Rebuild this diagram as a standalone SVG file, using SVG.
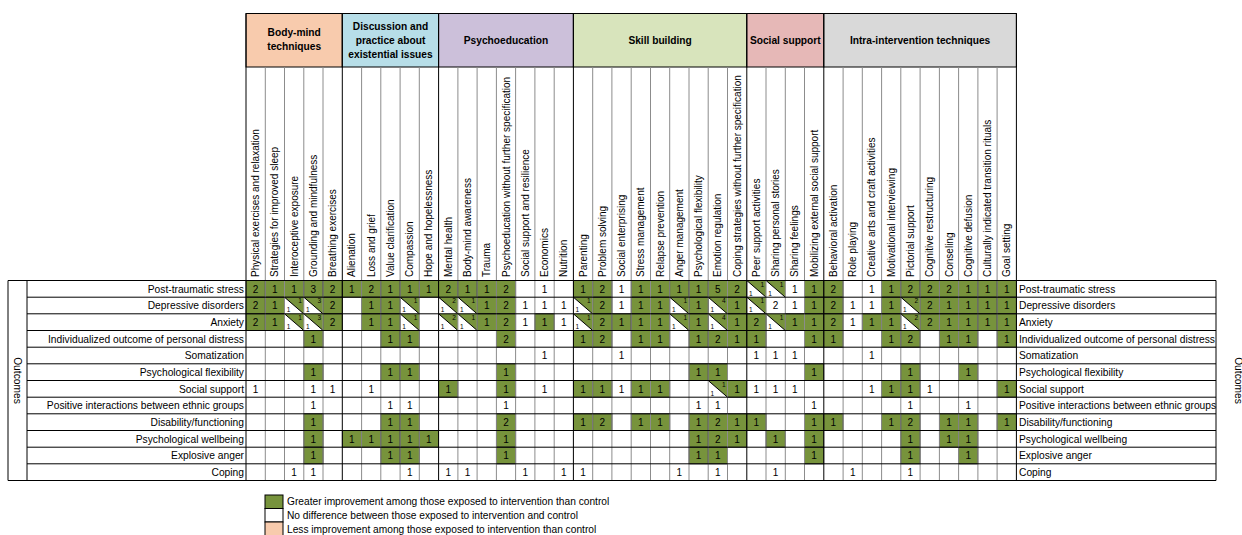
<svg xmlns="http://www.w3.org/2000/svg" xmlns:xlink="http://www.w3.org/1999/xlink" width="1242" height="535" viewBox="0 0 1242 535">
<style>
text{font-family:"Liberation Sans",Arial,sans-serif;fill:#000}
.row text{font-size:10px;text-anchor:middle}
.row text.s{font-size:6.5px}
.cl text{font-size:10px}
.rl text{font-size:10.25px;text-anchor:end}
.rr text{font-size:10.25px}
.hd text{font-size:10.2px;font-weight:bold;text-anchor:middle}
.lg text{font-size:10.2px}
.hb{stroke:#000;stroke-width:1}
</style>
<defs>
<rect id="gc" width="19.3" height="16.7" fill="#77933C" stroke="#1a1a1a" stroke-width="0.8"/>
<g id="sp"><polygon points="0,0 19.3,0 19.3,16.7" fill="#77933C"/><line x1="0" y1="0" x2="19.3" y2="16.7" stroke="#000" stroke-width="1"/></g>
</defs>
<rect width="1242" height="535" fill="#fff"/>

<g id="header-groups" class="hd">
<rect class="hb" x="246" y="13.5" width="96.3" height="53.5" fill="#F8CBAD"/>
<rect class="hb" x="342.3" y="13.5" width="96.3" height="53.5" fill="#B7DEE8"/>
<rect class="hb" x="438.6" y="13.5" width="134.8" height="53.5" fill="#CCC0DA"/>
<rect class="hb" x="573.4" y="13.5" width="173.4" height="53.5" fill="#D8E4BC"/>
<rect class="hb" x="746.8" y="13.5" width="77" height="53.5" fill="#E6B8B7"/>
<rect class="hb" x="823.8" y="13.5" width="192.6" height="53.5" fill="#D9D9D9"/>
<text x="294.2" y="36">Body-mind</text><text x="294.2" y="50">techniques</text>
<text x="390.5" y="30">Discussion and</text><text x="390.5" y="44">practice about</text><text x="390.5" y="58">existential issues</text>
<text x="506" y="43.5">Psychoeducation</text>
<text x="660.1" y="43.5">Skill building</text>
<text x="785.3" y="43.5">Social support</text>
<text x="920.1" y="43.5">Intra-intervention techniques</text>
</g>

<g id="column-labels" class="cl">
<text transform="translate(259.1,277) rotate(-90)">Physical exercises and relaxation</text>
<text transform="translate(278.4,277) rotate(-90)">Strategies for improved sleep</text>
<text transform="translate(297.6,277) rotate(-90)">Interoceptive exposure</text>
<text transform="translate(316.9,277) rotate(-90)">Grounding and mindfulness</text>
<text transform="translate(336.1,277) rotate(-90)">Breathing exercises</text>
<text transform="translate(355.4,277) rotate(-90)">Alienation</text>
<text transform="translate(374.7,277) rotate(-90)">Loss and grief</text>
<text transform="translate(393.9,277) rotate(-90)">Value clarification</text>
<text transform="translate(413.2,277) rotate(-90)">Compassion</text>
<text transform="translate(432.4,277) rotate(-90)">Hope and hopelessness</text>
<text transform="translate(451.7,277) rotate(-90)">Mental health</text>
<text transform="translate(471,277) rotate(-90)">Body-mind awareness</text>
<text transform="translate(490.2,277) rotate(-90)">Trauma</text>
<text transform="translate(509.5,277) rotate(-90)">Psychoeducation without further specification</text>
<text transform="translate(528.7,277) rotate(-90)">Social support and resilience</text>
<text transform="translate(548,277) rotate(-90)">Economics</text>
<text transform="translate(567.3,277) rotate(-90)">Nutrition</text>
<text transform="translate(586.5,277) rotate(-90)">Parenting</text>
<text transform="translate(605.8,277) rotate(-90)">Problem solving</text>
<text transform="translate(625,277) rotate(-90)">Social enterprising</text>
<text transform="translate(644.3,277) rotate(-90)">Stress management</text>
<text transform="translate(663.6,277) rotate(-90)">Relapse prevention</text>
<text transform="translate(682.8,277) rotate(-90)">Anger management</text>
<text transform="translate(702.1,277) rotate(-90)">Psychological flexibility</text>
<text transform="translate(721.3,277) rotate(-90)">Emotion regulation</text>
<text transform="translate(740.6,277) rotate(-90)">Coping strategies without further specification</text>
<text transform="translate(759.9,277) rotate(-90)">Peer support activities</text>
<text transform="translate(779.1,277) rotate(-90)">Sharing personal stories</text>
<text transform="translate(798.4,277) rotate(-90)">Sharing feelings</text>
<text transform="translate(817.6,277) rotate(-90)">Mobilizing external social support</text>
<text transform="translate(836.9,277) rotate(-90)">Behavioral activation</text>
<text transform="translate(856.2,277) rotate(-90)">Role playing</text>
<text transform="translate(875.4,277) rotate(-90)">Creative arts and craft activities</text>
<text transform="translate(894.7,277) rotate(-90)">Motivational interviewing</text>
<text transform="translate(913.9,277) rotate(-90)">Pictorial support</text>
<text transform="translate(933.2,277) rotate(-90)">Cognitive restructuring</text>
<text transform="translate(952.5,277) rotate(-90)">Conseling</text>
<text transform="translate(971.7,277) rotate(-90)">Cognitive defusion</text>
<text transform="translate(991,277) rotate(-90)">Culturally indicated transition rituals</text>
<text transform="translate(1010.2,277) rotate(-90)">Goal setting</text>
</g>

<g id="row-labels-left" class="rl">
<text x="244" y="292.5">Post-traumatic stress</text>
<text x="244" y="309.2">Depressive disorders</text>
<text x="244" y="325.8">Anxiety</text>
<text x="244" y="342.5">Individualized outcome of personal distress</text>
<text x="244" y="359.2">Somatization</text>
<text x="244" y="375.8">Psychological flexibility</text>
<text x="244" y="392.5">Social support</text>
<text x="244" y="409.2">Positive interactions between ethnic groups</text>
<text x="244" y="425.8">Disability/functioning</text>
<text x="244" y="442.5">Psychological wellbeing</text>
<text x="244" y="459.2">Explosive anger</text>
<text x="244" y="475.8">Coping</text>
</g>
<g id="row-labels-right" class="rr">
<text x="1019" y="292.5">Post-traumatic stress</text>
<text x="1019" y="309.2">Depressive disorders</text>
<text x="1019" y="325.8">Anxiety</text>
<text x="1019" y="342.5">Individualized outcome of personal distress</text>
<text x="1019" y="359.2">Somatization</text>
<text x="1019" y="375.8">Psychological flexibility</text>
<text x="1019" y="392.5">Social support</text>
<text x="1019" y="409.2">Positive interactions between ethnic groups</text>
<text x="1019" y="425.8">Disability/functioning</text>
<text x="1019" y="442.5">Psychological wellbeing</text>
<text x="1019" y="459.2">Explosive anger</text>
<text x="1019" y="475.8">Coping</text>
</g>

<g id="outcomes-left"><text transform="translate(14,380.5) rotate(90)" font-size="10.25" text-anchor="middle">Outcomes</text></g>
<g id="outcomes-right"><text transform="translate(1235,380.5) rotate(90)" font-size="10.25" text-anchor="middle">Outcomes</text></g>

<g id="r0" class="row" transform="translate(0,280.5)">
<use href="#gc" x="246"/><use href="#gc" x="265.3"/><use href="#gc" x="284.5"/><use href="#gc" x="303.8"/><use href="#gc" x="323"/><use href="#gc" x="342.3"/><use href="#gc" x="361.6"/><use href="#gc" x="380.8"/><use href="#gc" x="400.1"/><use href="#gc" x="419.3"/><use href="#gc" x="438.6"/><use href="#gc" x="457.9"/><use href="#gc" x="477.1"/><use href="#gc" x="496.4"/><use href="#gc" x="573.4"/><use href="#gc" x="592.7"/><use href="#gc" x="631.2"/><use href="#gc" x="650.5"/><use href="#gc" x="669.7"/><use href="#gc" x="689"/><use href="#gc" x="708.2"/><use href="#gc" x="727.5"/><use href="#gc" x="804.5"/><use href="#gc" x="823.8"/><use href="#gc" x="881.6"/><use href="#gc" x="900.8"/><use href="#gc" x="920.1"/><use href="#gc" x="939.4"/><use href="#gc" x="958.6"/><use href="#gc" x="977.9"/><use href="#gc" x="997.1"/>
<use href="#sp" x="746.8"/><use href="#sp" x="766"/>
<text x="255.6" y="12">2</text><text x="274.9" y="12">1</text><text x="294.1" y="12">1</text><text x="313.4" y="12">3</text><text x="332.6" y="12">2</text><text x="351.9" y="12">1</text><text x="371.2" y="12">2</text><text x="390.4" y="12">1</text><text x="409.7" y="12">1</text><text x="428.9" y="12">1</text><text x="448.2" y="12">2</text><text x="467.5" y="12">1</text><text x="486.7" y="12">1</text><text x="506" y="12">2</text><text x="544.5" y="12">1</text><text x="583" y="12">1</text><text x="602.3" y="12">2</text><text x="621.5" y="12">1</text><text x="640.8" y="12">1</text><text x="660.1" y="12">1</text><text x="679.3" y="12">1</text><text x="698.6" y="12">1</text><text x="717.8" y="12">5</text><text x="737.1" y="12">2</text><text x="794.9" y="12">1</text><text x="814.1" y="12">1</text><text x="833.4" y="12">2</text><text x="871.9" y="12">1</text><text x="891.2" y="12">1</text><text x="910.4" y="12">2</text><text x="929.7" y="12">2</text><text x="949" y="12">2</text><text x="968.2" y="12">1</text><text x="987.5" y="12">1</text><text x="1006.7" y="12">1</text>
<text class="s" x="762.3" y="6.3">1</text><text class="s" x="750.8" y="15">1</text><text class="s" x="781.5" y="6.3">1</text><text class="s" x="770" y="15">1</text>
</g>

<g id="r1" class="row" transform="translate(0,297.2)">
<use href="#gc" x="246"/><use href="#gc" x="265.3"/><use href="#gc" x="323"/><use href="#gc" x="361.6"/><use href="#gc" x="380.8"/><use href="#gc" x="477.1"/><use href="#gc" x="496.4"/><use href="#gc" x="592.7"/><use href="#gc" x="631.2"/><use href="#gc" x="650.5"/><use href="#gc" x="689"/><use href="#gc" x="727.5"/><use href="#gc" x="804.5"/><use href="#gc" x="823.8"/><use href="#gc" x="881.6"/><use href="#gc" x="920.1"/><use href="#gc" x="939.4"/><use href="#gc" x="958.6"/><use href="#gc" x="977.9"/><use href="#gc" x="997.1"/>
<use href="#sp" x="284.5"/><use href="#sp" x="303.8"/><use href="#sp" x="400.1"/><use href="#sp" x="438.6"/><use href="#sp" x="457.9"/><use href="#sp" x="573.4"/><use href="#sp" x="669.7"/><use href="#sp" x="708.2"/><use href="#sp" x="746.8"/><use href="#sp" x="900.8"/>
<text x="255.6" y="12">2</text><text x="274.9" y="12">1</text><text x="332.6" y="12">2</text><text x="371.2" y="12">1</text><text x="390.4" y="12">1</text><text x="486.7" y="12">1</text><text x="506" y="12">2</text><text x="525.2" y="12">1</text><text x="544.5" y="12">1</text><text x="563.8" y="12">1</text><text x="602.3" y="12">2</text><text x="621.5" y="12">1</text><text x="640.8" y="12">1</text><text x="660.1" y="12">1</text><text x="698.6" y="12">1</text><text x="737.1" y="12">1</text><text x="775.6" y="12">2</text><text x="794.9" y="12">1</text><text x="814.1" y="12">1</text><text x="833.4" y="12">2</text><text x="852.7" y="12">1</text><text x="871.9" y="12">1</text><text x="891.2" y="12">1</text><text x="929.7" y="12">2</text><text x="949" y="12">1</text><text x="968.2" y="12">1</text><text x="987.5" y="12">1</text><text x="1006.7" y="12">1</text>
<text class="s" x="300" y="6.3">1</text><text class="s" x="288.5" y="15">1</text>
<text class="s" x="319.3" y="6.3">3</text><text class="s" x="307.8" y="15">1</text>
<text class="s" x="415.6" y="6.3">1</text><text class="s" x="404.1" y="15">1</text>
<text class="s" x="454.1" y="6.3">2</text><text class="s" x="442.6" y="15">1</text>
<text class="s" x="473.4" y="6.3">1</text><text class="s" x="461.9" y="15">1</text>
<text class="s" x="588.9" y="6.3">1</text><text class="s" x="577.4" y="15">1</text>
<text class="s" x="685.2" y="6.3">1</text><text class="s" x="673.7" y="15">1</text>
<text class="s" x="723.7" y="6.3">4</text><text class="s" x="712.2" y="15">1</text>
<text class="s" x="762.3" y="6.3">1</text><text class="s" x="750.8" y="15">1</text>
<text class="s" x="916.3" y="6.3">2</text><text class="s" x="904.8" y="15">1</text>
</g>

<g id="r2" class="row" transform="translate(0,313.8)">
<use href="#gc" x="246"/><use href="#gc" x="265.3"/><use href="#gc" x="323"/><use href="#gc" x="361.6"/><use href="#gc" x="380.8"/><use href="#gc" x="477.1"/><use href="#gc" x="496.4"/><use href="#gc" x="534.9"/><use href="#gc" x="592.7"/><use href="#gc" x="611.9"/><use href="#gc" x="631.2"/><use href="#gc" x="650.5"/><use href="#gc" x="689"/><use href="#gc" x="727.5"/><use href="#gc" x="746.8"/><use href="#gc" x="785.3"/><use href="#gc" x="804.5"/><use href="#gc" x="823.8"/><use href="#gc" x="862.3"/><use href="#gc" x="881.6"/><use href="#gc" x="920.1"/><use href="#gc" x="939.4"/><use href="#gc" x="958.6"/><use href="#gc" x="977.9"/><use href="#gc" x="997.1"/>
<use href="#sp" x="284.5"/><use href="#sp" x="303.8"/><use href="#sp" x="400.1"/><use href="#sp" x="438.6"/><use href="#sp" x="457.9"/><use href="#sp" x="573.4"/><use href="#sp" x="669.7"/><use href="#sp" x="708.2"/><use href="#sp" x="766"/><use href="#sp" x="900.8"/>
<text x="255.6" y="12">2</text><text x="274.9" y="12">1</text><text x="332.6" y="12">2</text><text x="371.2" y="12">1</text><text x="390.4" y="12">1</text><text x="486.7" y="12">1</text><text x="506" y="12">2</text><text x="525.2" y="12">1</text><text x="544.5" y="12">1</text><text x="563.8" y="12">1</text><text x="602.3" y="12">2</text><text x="621.5" y="12">1</text><text x="640.8" y="12">1</text><text x="660.1" y="12">1</text><text x="698.6" y="12">1</text><text x="737.1" y="12">1</text><text x="756.4" y="12">2</text><text x="794.9" y="12">1</text><text x="814.1" y="12">1</text><text x="833.4" y="12">2</text><text x="852.7" y="12">1</text><text x="871.9" y="12">1</text><text x="891.2" y="12">1</text><text x="929.7" y="12">2</text><text x="949" y="12">1</text><text x="968.2" y="12">1</text><text x="987.5" y="12">1</text><text x="1006.7" y="12">1</text>
<text class="s" x="300" y="6.3">1</text><text class="s" x="288.5" y="15">1</text>
<text class="s" x="319.3" y="6.3">3</text><text class="s" x="307.8" y="15">1</text>
<text class="s" x="415.6" y="6.3">1</text><text class="s" x="404.1" y="15">1</text>
<text class="s" x="454.1" y="6.3">2</text><text class="s" x="442.6" y="15">1</text>
<text class="s" x="473.4" y="6.3">1</text><text class="s" x="461.9" y="15">1</text>
<text class="s" x="588.9" y="6.3">1</text><text class="s" x="577.4" y="15">1</text>
<text class="s" x="685.2" y="6.3">1</text><text class="s" x="673.7" y="15">1</text>
<text class="s" x="723.7" y="6.3">4</text><text class="s" x="712.2" y="15">1</text>
<text class="s" x="781.5" y="6.3">1</text><text class="s" x="770" y="15">1</text>
<text class="s" x="916.3" y="6.3">2</text><text class="s" x="904.8" y="15">1</text>
</g>

<g id="r3" class="row" transform="translate(0,330.5)">
<use href="#gc" x="303.8"/><use href="#gc" x="380.8"/><use href="#gc" x="400.1"/><use href="#gc" x="496.4"/><use href="#gc" x="573.4"/><use href="#gc" x="592.7"/><use href="#gc" x="631.2"/><use href="#gc" x="650.5"/><use href="#gc" x="689"/><use href="#gc" x="708.2"/><use href="#gc" x="727.5"/><use href="#gc" x="746.8"/><use href="#gc" x="804.5"/><use href="#gc" x="823.8"/><use href="#gc" x="881.6"/><use href="#gc" x="900.8"/><use href="#gc" x="939.4"/><use href="#gc" x="958.6"/><use href="#gc" x="997.1"/>
<text x="313.4" y="12">1</text><text x="390.4" y="12">1</text><text x="409.7" y="12">1</text><text x="506" y="12">2</text><text x="583" y="12">1</text><text x="602.3" y="12">2</text><text x="640.8" y="12">1</text><text x="660.1" y="12">1</text><text x="698.6" y="12">1</text><text x="717.8" y="12">2</text><text x="737.1" y="12">1</text><text x="756.4" y="12">1</text><text x="814.1" y="12">1</text><text x="833.4" y="12">1</text><text x="891.2" y="12">1</text><text x="910.4" y="12">2</text><text x="949" y="12">1</text><text x="968.2" y="12">1</text><text x="1006.7" y="12">1</text>
</g>

<g id="r4" class="row" transform="translate(0,347.2)">
<text x="544.5" y="12">1</text><text x="621.5" y="12">1</text><text x="756.4" y="12">1</text><text x="775.6" y="12">1</text><text x="794.9" y="12">1</text><text x="871.9" y="12">1</text>
</g>

<g id="r5" class="row" transform="translate(0,363.8)">
<use href="#gc" x="303.8"/><use href="#gc" x="380.8"/><use href="#gc" x="400.1"/><use href="#gc" x="496.4"/><use href="#gc" x="689"/><use href="#gc" x="708.2"/><use href="#gc" x="804.5"/><use href="#gc" x="900.8"/><use href="#gc" x="958.6"/>
<text x="313.4" y="12">1</text><text x="390.4" y="12">1</text><text x="409.7" y="12">1</text><text x="506" y="12">1</text><text x="698.6" y="12">1</text><text x="717.8" y="12">1</text><text x="814.1" y="12">1</text><text x="910.4" y="12">1</text><text x="968.2" y="12">1</text>
</g>

<g id="r6" class="row" transform="translate(0,380.5)">
<use href="#gc" x="438.6"/><use href="#gc" x="496.4"/><use href="#gc" x="573.4"/><use href="#gc" x="592.7"/><use href="#gc" x="631.2"/><use href="#gc" x="650.5"/><use href="#gc" x="727.5"/><use href="#gc" x="881.6"/><use href="#gc" x="900.8"/><use href="#gc" x="997.1"/>
<use href="#sp" x="708.2"/>
<text x="255.6" y="12">1</text><text x="313.4" y="12">1</text><text x="332.6" y="12">1</text><text x="371.2" y="12">1</text><text x="448.2" y="12">1</text><text x="506" y="12">1</text><text x="544.5" y="12">1</text><text x="583" y="12">1</text><text x="602.3" y="12">1</text><text x="621.5" y="12">1</text><text x="640.8" y="12">1</text><text x="660.1" y="12">1</text><text x="737.1" y="12">1</text><text x="756.4" y="12">1</text><text x="775.6" y="12">1</text><text x="794.9" y="12">1</text><text x="871.9" y="12">1</text><text x="891.2" y="12">1</text><text x="910.4" y="12">1</text><text x="929.7" y="12">1</text><text x="1006.7" y="12">1</text>
<text class="s" x="723.7" y="6.3">1</text><text class="s" x="712.2" y="15">1</text>
</g>

<g id="r7" class="row" transform="translate(0,397.2)">
<text x="313.4" y="12">1</text><text x="390.4" y="12">1</text><text x="409.7" y="12">1</text><text x="506" y="12">1</text><text x="698.6" y="12">1</text><text x="717.8" y="12">1</text><text x="814.1" y="12">1</text><text x="910.4" y="12">1</text><text x="968.2" y="12">1</text>
</g>

<g id="r8" class="row" transform="translate(0,413.8)">
<use href="#gc" x="303.8"/><use href="#gc" x="380.8"/><use href="#gc" x="400.1"/><use href="#gc" x="496.4"/><use href="#gc" x="573.4"/><use href="#gc" x="592.7"/><use href="#gc" x="631.2"/><use href="#gc" x="650.5"/><use href="#gc" x="689"/><use href="#gc" x="708.2"/><use href="#gc" x="727.5"/><use href="#gc" x="746.8"/><use href="#gc" x="804.5"/><use href="#gc" x="823.8"/><use href="#gc" x="881.6"/><use href="#gc" x="900.8"/><use href="#gc" x="939.4"/><use href="#gc" x="958.6"/><use href="#gc" x="997.1"/>
<text x="313.4" y="12">1</text><text x="390.4" y="12">1</text><text x="409.7" y="12">1</text><text x="506" y="12">2</text><text x="583" y="12">1</text><text x="602.3" y="12">2</text><text x="640.8" y="12">1</text><text x="660.1" y="12">1</text><text x="698.6" y="12">1</text><text x="717.8" y="12">2</text><text x="737.1" y="12">1</text><text x="756.4" y="12">1</text><text x="814.1" y="12">1</text><text x="833.4" y="12">1</text><text x="891.2" y="12">1</text><text x="910.4" y="12">2</text><text x="949" y="12">1</text><text x="968.2" y="12">1</text><text x="1006.7" y="12">1</text>
</g>

<g id="r9" class="row" transform="translate(0,430.5)">
<use href="#gc" x="303.8"/><use href="#gc" x="342.3"/><use href="#gc" x="361.6"/><use href="#gc" x="380.8"/><use href="#gc" x="400.1"/><use href="#gc" x="419.3"/><use href="#gc" x="496.4"/><use href="#gc" x="689"/><use href="#gc" x="708.2"/><use href="#gc" x="727.5"/><use href="#gc" x="766"/><use href="#gc" x="804.5"/><use href="#gc" x="900.8"/><use href="#gc" x="939.4"/><use href="#gc" x="958.6"/>
<text x="313.4" y="12">1</text><text x="351.9" y="12">1</text><text x="371.2" y="12">1</text><text x="390.4" y="12">1</text><text x="409.7" y="12">1</text><text x="428.9" y="12">1</text><text x="506" y="12">1</text><text x="698.6" y="12">1</text><text x="717.8" y="12">2</text><text x="737.1" y="12">1</text><text x="775.6" y="12">1</text><text x="814.1" y="12">1</text><text x="910.4" y="12">1</text><text x="949" y="12">1</text><text x="968.2" y="12">1</text>
</g>

<g id="r10" class="row" transform="translate(0,447.2)">
<use href="#gc" x="303.8"/><use href="#gc" x="380.8"/><use href="#gc" x="400.1"/><use href="#gc" x="496.4"/><use href="#gc" x="689"/><use href="#gc" x="708.2"/><use href="#gc" x="804.5"/><use href="#gc" x="900.8"/><use href="#gc" x="958.6"/>
<text x="313.4" y="12">1</text><text x="390.4" y="12">1</text><text x="409.7" y="12">1</text><text x="506" y="12">1</text><text x="698.6" y="12">1</text><text x="717.8" y="12">1</text><text x="814.1" y="12">1</text><text x="910.4" y="12">1</text><text x="968.2" y="12">1</text>
</g>

<g id="r11" class="row" transform="translate(0,463.8)">
<text x="294.1" y="12">1</text><text x="313.4" y="12">1</text><text x="409.7" y="12">1</text><text x="448.2" y="12">1</text><text x="467.5" y="12">1</text><text x="525.2" y="12">1</text><text x="563.8" y="12">1</text><text x="583" y="12">1</text><text x="679.3" y="12">1</text><text x="717.8" y="12">1</text><text x="775.6" y="12">1</text><text x="852.7" y="12">1</text><text x="910.4" y="12">1</text>
</g>

<g id="grid" fill="none">
<path stroke="#8c8c8c" stroke-width="1" d="M265.3 67V480.5M284.5 67V480.5M303.8 67V480.5M323 67V480.5M361.6 67V480.5M380.8 67V480.5M400.1 67V480.5M419.3 67V480.5M457.9 67V480.5M477.1 67V480.5M496.4 67V480.5M515.6 67V480.5M534.9 67V480.5M554.2 67V480.5M592.7 67V480.5M611.9 67V480.5M631.2 67V480.5M650.5 67V480.5M669.7 67V480.5M689 67V480.5M708.2 67V480.5M727.5 67V480.5M766 67V480.5M785.3 67V480.5M804.5 67V480.5M843.1 67V480.5M862.3 67V480.5M881.6 67V480.5M900.8 67V480.5M920.1 67V480.5M939.4 67V480.5M958.6 67V480.5M977.9 67V480.5M997.1 67V480.5"/>
<path stroke="#000" stroke-width="1" d="M246 13.5V480.5M342.3 13.5V480.5M438.6 13.5V480.5M573.4 13.5V480.5M746.8 13.5V480.5M823.8 13.5V480.5M1016.4 13.5V480.5"/>
<path stroke="#000" stroke-width="1" d="M8 280.5H1216M27 297.2H1216M27 313.8H1216M27 330.5H1216M27 347.2H1216M27 363.8H1216M27 380.5H1216M27 397.2H1216M27 413.8H1216M27 430.5H1216M27 447.2H1216M27 463.8H1216M8 480.5H1216M8 280.5V480.5M27 280.5V480.5M1216 280.5V480.5"/>
</g>

<g id="legend" class="lg">
<rect x="265" y="495" width="18" height="13.5" fill="#77933C" stroke="#000" stroke-width="1"/>
<rect x="265" y="508.5" width="18" height="13.5" fill="#fff" stroke="#000" stroke-width="1"/>
<rect x="265" y="522" width="18" height="14" fill="#F8CBAD" stroke="#000" stroke-width="1"/>
<text x="287" y="505">Greater improvement among those exposed to intervention than control</text>
<text x="287" y="519">No difference between those exposed to intervention and control</text>
<text x="287" y="532.5">Less improvement among those exposed to intervention than control</text>
</g>
</svg>
